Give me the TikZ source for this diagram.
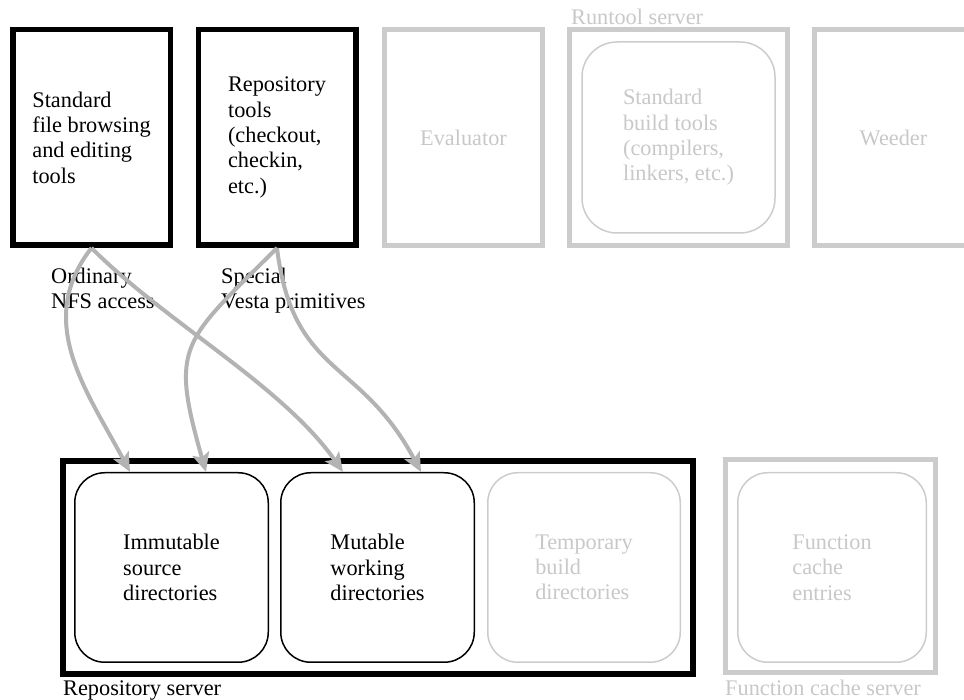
\documentclass[tikz,border=0pt]{standalone}
\usepackage{fontspec}
\setmainfont{Liberation Serif}
\usetikzlibrary{arrows.meta}
\definecolor{lg}{HTML}{CCCCCC}
\definecolor{lgt}{HTML}{C8C8C8}
\definecolor{ag}{HTML}{B3B3B3}
\begin{document}
\begin{tikzpicture}[x=1pt,y=1pt,
  font=\fontsize{22.3}{25.3}\selectfont,
  blackbox/.style={draw=black, line width=5.5pt, minimum width=157.5pt, minimum height=215.5pt, inner sep=0pt, align=left},
  greybox/.style={draw=lg, line width=5pt, text=lgt, minimum width=158pt, minimum height=216pt, inner sep=0pt, align=left},
  dirbox/.style={draw=black, line width=1.5pt, rounded corners=30pt, minimum width=193.5pt, minimum height=189.5pt, inner sep=0pt, align=left},
  greydir/.style={draw=lg, line width=1.5pt, text=lgt, rounded corners=30pt, minimum height=189.5pt, inner sep=0pt, align=left},
  caption/.style={anchor=base west, inner sep=0pt, align=left},
  conn/.style={draw=ag, line width=4pt, -{Stealth[length=19pt, width=17pt, inset=4pt]}}
]
\useasboundingbox (0,0) rectangle (964,700);
\clip (0,0) rectangle (964,700);

% top row
\node[blackbox] (b1) at (91.5,562.5) {Standard\\file browsing\\and editing\\tools};
\node[blackbox] (b2) at (277,562.5) {Repository\\tools\\(checkout,\\checkin,\\etc.)};
\node[greybox] (ev) at (463.5,562.5) {Evaluator};
\node[greybox, minimum width=218pt] (rt) at (678.5,562.5) {};
\node[greydir, rounded corners=35pt, minimum width=193pt, minimum height=191pt] (sbt) at (678.5,562.5) {Standard\\build tools\\(compilers,\\linkers, etc.)};
\node[caption, text=lgt] (rtl) at (571,675) {Runtool server};
\node[greybox] (wd) at (893.5,562.5) {Weeder};

% bottom row
\node[draw=black, line width=6pt, minimum width=630pt, minimum height=213pt, inner sep=0pt] (repo) at (378,132.5) {};
\node[caption] (repol) at (63,4) {Repository server};
\node[dirbox] (imm) at (171.5,132.5) {Immutable\\source\\directories};
\node[dirbox] (mut) at (377.5,132.5) {Mutable\\working\\directories};
\node[greydir, minimum width=192.5pt] (tmp) at (584,132.5) {Temporary\\build\\directories};
\node[draw=lg, line width=5pt, minimum width=210pt, minimum height=213pt, inner sep=0pt] (fc) at (830.5,134) {};
\node[greydir, minimum width=188.5pt] (fce) at (832,132.5) {Function\\cache\\entries};
\node[caption, text=lgt] (fcl) at (725,4) {Function cache server};

% labels
\node[caption] (l1) at (51,391) {Ordinary\\NFS access};
\node[caption] (l2) at (221,391) {Special\\Vesta primitives};

% connectors
\draw[conn] (b1.south) to[out=232, in=118, looseness=1.05] ([xshift=-41.5pt]imm.north);
\draw[conn] (b1.south) to[out=-45, in=125, looseness=0.8] ([xshift=-34.5pt]mut.north);
\draw[conn] (b2.south) to[out=225, in=106, looseness=1.45] ([xshift=34.5pt]imm.north);
\draw[conn] (b2.south) to[out=277, in=118, looseness=1.25] ([xshift=43.5pt]mut.north);
\end{tikzpicture}
\end{document}
